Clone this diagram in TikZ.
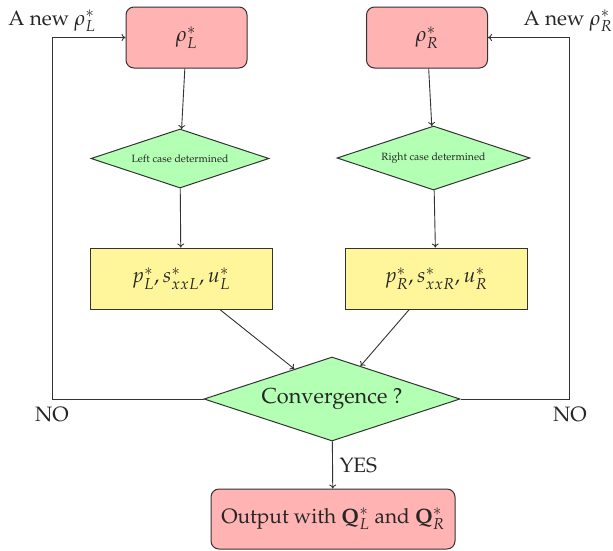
\documentclass[tikz,border=0pt]{standalone}
\usepackage[T1]{fontenc}
\usepackage{mathpazo}
\usetikzlibrary{shapes.geometric,arrows.meta}
\definecolor{pinkc}{RGB}{255,179,179}
\definecolor{greenc}{RGB}{179,255,179}
\definecolor{yellowc}{RGB}{255,246,155}
\begin{document}
\begin{tikzpicture}[x=1pt,y=-1pt,
  every node/.style={font=\fontsize{20.8}{24}\selectfont, text=black!85},
  rbox/.style={draw=black!80, line width=1pt, fill=pinkc, rounded corners=8pt, minimum width=121pt, minimum height=61pt, inner sep=0pt},
  ybox/.style={draw=black!80, line width=1pt, fill=yellowc, minimum width=182pt, minimum height=61pt, inner sep=0pt},
  dia/.style={diamond, aspect=3, draw=black!80, line width=1pt, fill=greenc, inner sep=0pt},
  smalltext/.style={font=\fontsize{10.5}{12}\selectfont},
  conn/.style={draw=black!80, line width=0.9pt, -{To[length=4pt,width=7pt]}}
]
\useasboundingbox (0,0) rectangle (613,550);
\node[rbox] (rL) at (186.5,37.5) {$\rho_L^*$};
\node[rbox] (rR) at (427,37.5) {$\rho_R^*$};
\node[dia, smalltext, minimum width=178pt, minimum height=59pt] (dL) at (180,158.5) {Left case determined};
\node[dia, smalltext, minimum width=193pt, minimum height=64pt] (dR) at (433.5,158) {Right case determined};
\node[ybox] (yL) at (181,278.5) {$p_L^*, s_{xxL}^*, u_L^*$};
\node[ybox] (yR) at (436,278.5) {$p_R^*, s_{xxR}^*, u_R^*$};
\node[dia, font=\fontsize{21.7}{25}\selectfont, minimum width=256pt, minimum height=84pt] (cv) at (332,399) {Convergence ?};
\node[rbox, minimum width=244pt, minimum height=60pt] (out) at (333,519) {Output with $\mathbf{Q}_L^*$ and $\mathbf{Q}_R^*$};
\coordinate (cl) at (52,399);
\coordinate (cr) at (569,399);
\node (newL) at (52,21) {A new $\rho_L^*$};
\node (newR) at (568,21) {A new $\rho_R^*$};
\node (noL) at (52,415) {NO};
\node (noR) at (570,415) {NO};
\node[anchor=west] (yes) at (336,466) {YES};
\draw[conn] (rL) -- (dL);
\draw[conn] (rR) -- (dR);
\draw[conn] (dL) -- (yL);
\draw[conn] (dR) -- (yR);
\draw[conn] (yL) -- (cv);
\draw[conn] (yR) -- (cv);
\draw[conn] (cv) -- (out);
\draw[conn] (cv.west) -- (cl) |- (rL.west);
\draw[conn] (cv.east) -- (cr) |- (rR.east);
\end{tikzpicture}
\end{document}
